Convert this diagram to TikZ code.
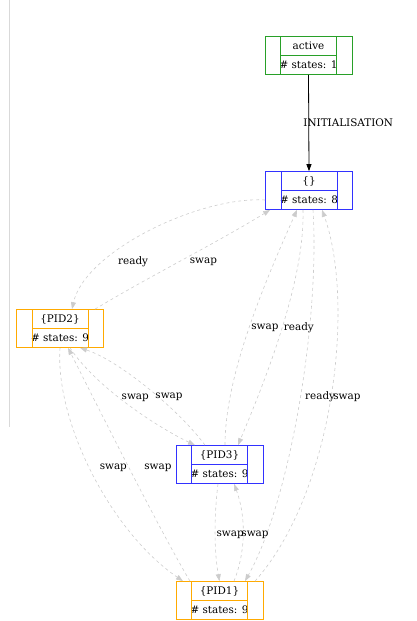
\documentclass[tikz,border=0pt]{standalone}
\usepackage{fontspec}
\setmainfont{DejaVu Serif}
\usetikzlibrary{arrows.meta}
\definecolor{recgreen}{RGB}{40,160,40}
\definecolor{recblue}{RGB}{50,50,255}
\definecolor{recorange}{RGB}{255,170,0}
\definecolor{edgegray}{HTML}{CCCCCC}
\tikzset{
  recbox/.style={draw=#1, line width=0.7pt, minimum width=87pt, minimum height=38pt,
    inner sep=0pt, align=center, font=\fontsize{10.4}{19}\selectfont},
  trans/.style={edgegray, line width=0.6pt, dashed, -{Triangle[length=7pt,width=5pt]}},
  lbl/.style={text=black, font=\fontsize{10.4}{12}\selectfont, inner sep=0pt}
}
\begin{document}
\begin{tikzpicture}[x=1pt,y=1pt]
    \useasboundingbox (0,0) rectangle (416,621);
    %% frame edge on the left
    \draw[gray!30] (9,621) -- (9,194);
    %% states
    \node[recbox=recgreen] (active) at (308.5,565.5) {active\\\# states: 1};
    \node[recbox=recblue] (empty) at (309,430.5) {\{\}\\\# states: 8};
    \node[recbox=recorange] (pidtwo) at (60,292.5) {\{PID2\}\\\# states: 9};
    \node[recbox=recblue] (pidthree) at (219.5,156.5) {\{PID3\}\\\# states: 9};
    \node[recbox=recorange] (pidone) at (219.5,20.5) {\{PID1\}\\\# states: 9};
    %% record fields
    \foreach \n/\c in {active/recgreen,empty/recblue,pidtwo/recorange,pidthree/recblue,pidone/recorange} {
        \draw[draw=\c,line width=0.7pt] ([xshift=16pt]\n.north west) -- ([xshift=16pt]\n.south west);
        \draw[draw=\c,line width=0.7pt] ([xshift=-16pt]\n.north east) -- ([xshift=-16pt]\n.south east);
        \draw[draw=\c,line width=0.7pt] ([xshift=16pt]\n.west) -- ([xshift=-16pt]\n.east);
    }
    %% initialisation
    \draw[line width=0.8pt,-{Triangle[length=7pt,width=5pt]}] (active.south) -- (empty.north)
        node[lbl,pos=0.5,xshift=39.5pt] {INITIALISATION};
    %% {} and PID2
    \draw[trans] ([yshift=-9.5pt]empty.west) .. controls (200,425) and (85,370) .. ([xshift=12pt]pidtwo.north)
        node[lbl,pos=0.7,xshift=26pt,yshift=-3pt] {ready};
    \draw[trans] ([xshift=35pt]pidtwo.north) .. controls (150,345) and (220,380) .. ([xshift=5pt]empty.south west)
        node[lbl,pos=0.5,xshift=19pt,yshift=-3pt] {swap};
    %% {} and PID3
    \draw[trans] ([xshift=5.5pt]pidthree.north) .. controls (225,250) and (270,350) .. ([xshift=-12pt]empty.south)
        node[lbl,pos=0.5,xshift=14pt,yshift=-5pt] {swap};
    \draw[trans] ([xshift=-6pt]empty.south) .. controls (305,340) and (265,240) .. ([xshift=18.5pt]pidthree.north)
        node[lbl,pos=0.5,xshift=17.5pt,yshift=2pt] {ready};
    %% PID2 and PID3
    \draw[trans] ([xshift=10pt]pidtwo.south) .. controls (95,235) and (155,195) .. ([xshift=-24.5pt]pidthree.north)
        node[lbl,pos=0.4,xshift=22pt,yshift=-5pt] {swap};
    \draw[trans] ([xshift=-14.5pt]pidthree.north) .. controls (180,210) and (120,260) .. ([xshift=20pt]pidtwo.south)
        node[lbl,pos=0.45,xshift=14pt,yshift=-3pt] {swap};
    %% PID2 and PID1
    \draw[trans] (pidtwo.south) .. controls (55,200) and (110,90) .. ([xshift=-36.5pt]pidone.north)
        node[lbl,pos=0.47,xshift=25pt,yshift=-2pt] {swap};
    \draw[trans] ([xshift=-29.5pt]pidone.north) .. controls (160,90) and (95,220) .. ([xshift=8pt]pidtwo.south)
        node[lbl,pos=0.5,xshift=30pt,yshift=-2pt] {swap};
    %% {} and PID1
    \draw[trans] ([xshift=4pt]empty.south) .. controls (320,300) and (290,120) .. ([xshift=25.5pt]pidone.north)
        node[lbl,pos=0.47,xshift=19.5pt,yshift=-2pt] {ready};
    \draw[trans] ([xshift=35.5pt]pidone.north) .. controls (335,130) and (355,320) .. ([xshift=13pt]empty.south)
        node[lbl,pos=0.5,xshift=16pt,yshift=-2pt] {swap};
    %% PID3 and PID1
    \draw[trans] ([xshift=-1.5pt]pidthree.south) .. controls (214,105) and (214,70) .. (pidone.north)
        node[lbl,pos=0.5,xshift=15pt,yshift=-2pt] {swap};
    \draw[trans] ([xshift=14.5pt]pidone.north) .. controls (246,70) and (246,105) .. ([xshift=14.5pt]pidthree.south)
        node[lbl,pos=0.5,xshift=12pt,yshift=-2pt] {swap};
\end{tikzpicture}
\end{document}
